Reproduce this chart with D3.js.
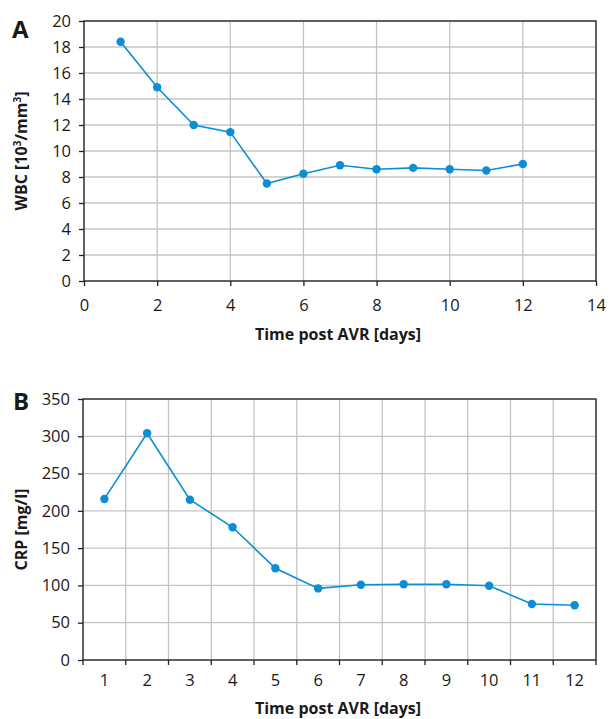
<!DOCTYPE html>
<html>
<head>
<meta charset="utf-8">
<script src="https://cdn.jsdelivr.net/npm/d3@7"></script>
<style>
  body { margin: 0; background: #fff; }
  svg text { font-family: "Open Sans", "Noto Sans", sans-serif; fill: #1a1a1a; }
</style>
</head>
<body>
<svg id="chart" width="612" height="719"></svg>
<script>
// panel A: WBC
const wbcDays = [1, 2, 3, 4, 5, 6, 7, 8, 9, 10, 11, 12]
const wbcValues = [18.4, 14.9, 12.0, 11.45, 7.5, 8.25, 8.9, 8.6, 8.7, 8.6, 8.5, 9.0]
const wbcXTicks = [0, 2, 4, 6, 8, 10, 12, 14]
const wbcYTicks = [0, 2, 4, 6, 8, 10, 12, 14, 16, 18, 20]

// panel B: CRP
const crpDays = ["1", "2", "3", "4", "5", "6", "7", "8", "9", "10", "11", "12"]
const crpValues = [216, 304, 215, 178, 123, 96, 101, 101.5, 101.5, 99.5, 75, 73.5]
const crpYTicks = [0, 50, 100, 150, 200, 250, 300, 350]

const blue = "#0b8ed6"
const gridCol = "#c4c4c4"
const tickFont = 16.5
const labelFont = 16
const svg = d3.select("#chart")

function frame(g, w, h){
  g.append("rect").attr("x",0).attr("y",0).attr("width",w).attr("height",h)
   .attr("fill","none").attr("stroke","#222").attr("stroke-width",1.3)
}

function styleAxis(ax){
  ax.select(".domain").remove()
  ax.selectAll(".tick line").attr("stroke","#222").attr("stroke-width",1.3)
  ax.selectAll(".tick text").attr("font-size",tickFont).attr("fill","#222")
}

// ---------- A ----------
{
  const m = {left:84, top:21, w:512, h:260}
  const g = svg.append("g").attr("transform",`translate(${m.left},${m.top})`)
  const x = d3.scaleLinear().domain([0,14]).range([0,m.w])
  const y = d3.scaleLinear().domain([0,20]).range([m.h,0])

  g.append("g").selectAll("line").data(wbcXTicks).join("line")
    .attr("x1",d=>x(d)).attr("x2",d=>x(d)).attr("y1",0).attr("y2",m.h)
    .attr("stroke",gridCol).attr("stroke-width",1.3)
  g.append("g").selectAll("line").data(wbcYTicks).join("line")
    .attr("y1",d=>y(d)).attr("y2",d=>y(d)).attr("x1",0).attr("x2",m.w)
    .attr("stroke",gridCol).attr("stroke-width",1.3)

  const ax = g.append("g").attr("transform",`translate(0,${m.h})`)
    .call(d3.axisBottom(x).tickValues(wbcXTicks).tickSize(5).tickPadding(13))
  styleAxis(ax)
  const ay = g.append("g").call(d3.axisLeft(y).tickValues(wbcYTicks).tickSize(5).tickPadding(8))
  styleAxis(ay)
  frame(g, m.w, m.h)

  const line = d3.line().x((d,i)=>x(wbcDays[i])).y(d=>y(d))
  g.append("path").datum(wbcValues).attr("d",line).attr("fill","none")
    .attr("stroke",blue).attr("stroke-width",1.6)
  g.selectAll("circle").data(wbcValues).join("circle")
    .attr("cx",(d,i)=>x(wbcDays[i])).attr("cy",d=>y(d)).attr("r",4.2).attr("fill",blue)

  svg.append("text").attr("x",12).attr("y",38).attr("font-size",24).attr("font-weight","bold").text("A")
  svg.append("text").attr("x",338).attr("y",340).attr("text-anchor","middle")
    .attr("font-size",labelFont).attr("font-weight","bold").text("Time post AVR [days]")
  const yl = svg.append("text").attr("transform",`translate(27,${m.top+m.h/2}) rotate(-90)`)
    .attr("text-anchor","middle").attr("font-size",labelFont).attr("font-weight","bold")
  yl.append("tspan").text("WBC [10")
  yl.append("tspan").attr("font-size",10).attr("dy",-6).text("3")
  yl.append("tspan").attr("dy",6).text("/mm")
  yl.append("tspan").attr("font-size",10).attr("dy",-6).text("3")
  yl.append("tspan").attr("dy",6).text("]")
}

// ---------- B ----------
{
  const m = {left:83, top:399, w:513, h:261}
  const g = svg.append("g").attr("transform",`translate(${m.left},${m.top})`)
  const x = d3.scaleBand().domain(crpDays).range([0,m.w])
  const y = d3.scaleLinear().domain([0,350]).range([m.h,0])
  const bounds = crpDays.map(d=>x(d)).concat([m.w])

  g.append("g").selectAll("line").data(bounds).join("line")
    .attr("x1",d=>d).attr("x2",d=>d).attr("y1",0).attr("y2",m.h)
    .attr("stroke",gridCol).attr("stroke-width",1.3)
  g.append("g").selectAll("line").data(crpYTicks).join("line")
    .attr("y1",d=>y(d)).attr("y2",d=>y(d)).attr("x1",0).attr("x2",m.w)
    .attr("stroke",gridCol).attr("stroke-width",1.3)

  // tick marks at band boundaries, labels at band centres
  const ax = g.append("g").attr("transform",`translate(0,${m.h})`)
  ax.selectAll("line").data(bounds).join("line")
    .attr("x1",d=>d).attr("x2",d=>d).attr("y1",0).attr("y2",5)
    .attr("stroke","#222").attr("stroke-width",1.3)
  ax.selectAll("text").data(crpDays).join("text")
    .attr("x",d=>x(d)+x.bandwidth()/2).attr("y",26).attr("text-anchor","middle")
    .attr("font-size",tickFont).attr("fill","#222").text(d=>d)

  const ay = g.append("g").call(d3.axisLeft(y).tickValues(crpYTicks).tickSize(5).tickPadding(8))
  styleAxis(ay)
  frame(g, m.w, m.h)

  const cx = d => x(d)+x.bandwidth()/2
  const line = d3.line().x((d,i)=>cx(crpDays[i])).y(d=>y(d))
  g.append("path").datum(crpValues).attr("d",line).attr("fill","none")
    .attr("stroke",blue).attr("stroke-width",1.6)
  g.selectAll("circle").data(crpValues).join("circle")
    .attr("cx",(d,i)=>cx(crpDays[i])).attr("cy",d=>y(d)).attr("r",4.2).attr("fill",blue)

  svg.append("text").attr("x",13).attr("y",410).attr("font-size",24).attr("font-weight","bold").text("B")
  svg.append("text").attr("x",338).attr("y",714).attr("text-anchor","middle")
    .attr("font-size",labelFont).attr("font-weight","bold").text("Time post AVR [days]")
  svg.append("text").attr("transform",`translate(27,${m.top+m.h/2}) rotate(-90)`)
    .attr("text-anchor","middle").attr("font-size",labelFont).attr("font-weight","bold").text("CRP [mg/l]")
}
</script>
</body>
</html>
